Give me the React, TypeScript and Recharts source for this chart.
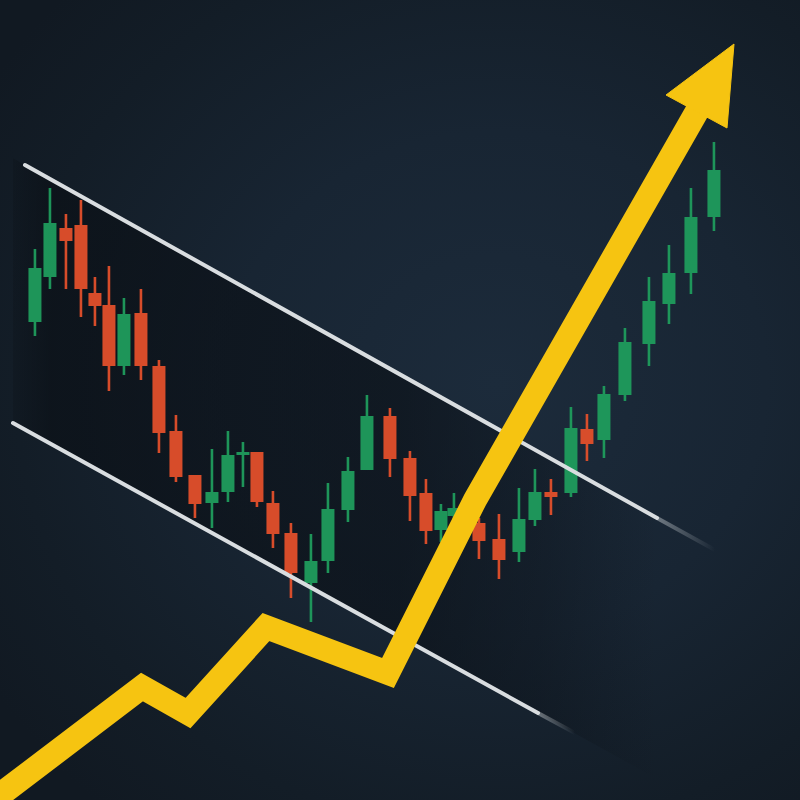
import React from 'react'
import { ComposedChart, XAxis, YAxis, Bar, Line, Area, Scatter } from 'recharts'

// candles: position on the time axis + OHLC (price units)
const times = [35, 50, 66, 81, 95, 109, 124, 141, 159, 176, 195, 212, 228, 243, 257, 273, 291, 311, 328, 348, 367, 390, 410, 426, 441, 454, 479, 499, 519, 535, 551, 571, 587, 604, 625, 649, 669, 691, 714]
const opens = [478, 523, 572, 575, 507, 495, 434, 487, 434, 369, 325, 297, 308, 345, 348, 297, 267, 217, 239, 290, 330, 384, 342, 307, 270, 284, 277, 261, 248, 280, 308, 307, 371, 360, 405, 456, 496, 527, 583]
const highs = [551, 612, 586, 600, 523, 534, 502, 511, 440, 385, 325, 351, 369, 358, 348, 309, 277, 266, 317, 343, 405, 392, 349, 321, 296, 307, 282, 286, 312, 331, 321, 393, 386, 414, 472, 523, 555, 612, 658]
const lows = [464, 511, 511, 483, 474, 409, 425, 420, 347, 318, 282, 272, 298, 313, 293, 252, 202, 178, 227, 278, 330, 323, 279, 256, 258, 280, 241, 221, 238, 274, 285, 303, 339, 342, 399, 434, 476, 506, 569]
const closes = [532, 577, 559, 511, 494, 434, 486, 434, 367, 323, 296, 308, 345, 348, 298, 266, 227, 239, 291, 329, 384, 341, 304, 269, 289, 292, 259, 240, 281, 308, 303, 372, 356, 406, 458, 499, 527, 583, 630]

// falling channel
const upperX = [25, 657]
const upperY = [635, 282]
const upperTailX = [657, 715]
const upperTailY = [282, 250]
const lowerX = [13, 538]
const lowerY = [377, 87]
const lowerTailX = [538, 575]
const lowerTailY = [87, 67]

// breakout arrow
const arrowX = [-8, 142, 188, 266, 388, 475, 700]
const arrowY = [-1, 113, 87, 173, 127, 300, 694]
const headX = [734, 666, 727]
const headY = [756, 705, 672]

const GREEN = '#1f9d5d'
const RED = '#e4502b'
const YELLOW = '#f6c411'
const WHITE = '#d9dde0'

const candles = times.map((t, i) => ({
  x: t,
  open: opens[i],
  high: highs[i],
  low: lows[i],
  close: closes[i],
  range: [lows[i], highs[i]],
}))

const pts = (xs: number[], ys: number[]) => xs.map((x, i) => ({ x, y: ys[i] }))

// channel band: interpolate the two straight lines at the same x
const lineAt = (xs: number[], ys: number[], x: number) =>
  ys[0] + ((ys[1] - ys[0]) * (x - xs[0])) / (xs[1] - xs[0])
const bandX = [13, 657]
const channel = bandX.map((x) => ({ x, band: [lineAt(lowerX, lowerY, x), lineAt(upperX, upperY, x)] }))

function Candle(props: any) {
  const { x, y, width, height, payload } = props
  if (x == null || y == null || !payload) return null
  const top = Math.min(y, y + height)
  const h = Math.abs(height)
  const { open, close, high, low } = payload
  const color = close >= open ? GREEN : RED
  const k = h / Math.max(high - low, 1)
  const cx = x + width / 2
  const bodyTop = top + (high - Math.max(open, close)) * k
  const bodyBot = top + (high - Math.min(open, close)) * k
  return (
    <g opacity={0.94}>
      <line x1={cx} x2={cx} y1={top} y2={top + h} stroke={color} strokeWidth={2.6} />
      <rect x={cx - 6.5} y={bodyTop} width={13} height={Math.max(bodyBot - bodyTop, 3)} fill={color} />
    </g>
  )
}

const ArrowHead = (p: any) => {
  const poly = (p.points || []).map((q: any) => `${q.x},${q.y}`).join(' ')
  return <polygon points={poly} fill={YELLOW} stroke={YELLOW} strokeWidth={1} strokeLinejoin="miter" />
}

export default function App() {
  return (
    <div
      style={{
        position: 'absolute',
        left: 0,
        top: 0,
        width: 800,
        height: 800,
        background:
          'radial-gradient(ellipse 75% 70% at 62% 48%, #1c2b3b 0%, #182533 45%, #131d27 80%, #111922 100%)',
      }}
    >
      <ComposedChart width={800} height={800} data={candles} margin={{ top: 0, right: 0, bottom: 0, left: 0 }}>
        <defs>
          <linearGradient id="chanFill" x1="0" y1="0" x2="1" y2="0">
            <stop offset="0%" stopColor="#0a0f15" stopOpacity={0.25} />
            <stop offset="6%" stopColor="#0a0f15" stopOpacity={0.65} />
            <stop offset="60%" stopColor="#0a0f15" stopOpacity={0.6} />
            <stop offset="82%" stopColor="#0a0f15" stopOpacity={0.35} />
            <stop offset="100%" stopColor="#0a0f15" stopOpacity={0} />
          </linearGradient>
          <linearGradient id="tailFade" x1="0" y1="0" x2="1" y2="0">
            <stop offset="0%" stopColor={WHITE} stopOpacity={0.45} />
            <stop offset="100%" stopColor={WHITE} stopOpacity={0} />
          </linearGradient>
        </defs>
        <XAxis dataKey="x" type="number" domain={[0, 800]} allowDataOverflow hide />
        <YAxis type="number" domain={[0, 800]} allowDataOverflow hide />

        <Area
          data={channel}
          dataKey="band"
          type="linear"
          stroke="none"
          fill="url(#chanFill)"
          fillOpacity={1}
          activeDot={false}
          isAnimationActive={false}
        />

        <Line data={pts(upperX, upperY)} dataKey="y" type="linear" stroke={WHITE} strokeWidth={4} strokeLinecap="round" dot={false} activeDot={false} isAnimationActive={false} />
        <Line data={pts(upperTailX, upperTailY)} dataKey="y" type="linear" stroke="url(#tailFade)" strokeWidth={4} dot={false} activeDot={false} isAnimationActive={false} />
        <Line data={pts(lowerX, lowerY)} dataKey="y" type="linear" stroke={WHITE} strokeWidth={4} strokeLinecap="round" dot={false} activeDot={false} isAnimationActive={false} />
        <Line data={pts(lowerTailX, lowerTailY)} dataKey="y" type="linear" stroke="url(#tailFade)" strokeWidth={4} dot={false} activeDot={false} isAnimationActive={false} />

        <Bar dataKey="range" barSize={13} shape={<Candle />} activeBar={false} isAnimationActive={false} />

        <Line
          data={pts(arrowX, arrowY)}
          dataKey="y"
          type="linear"
          stroke={YELLOW}
          strokeWidth={24}
          strokeLinejoin="miter"
          strokeMiterlimit={6}
          dot={false}
          activeDot={false}
          isAnimationActive={false}
        />
        <Scatter
          data={pts(headX, headY)}
          dataKey="y"
          fill={YELLOW}
          line={ArrowHead}
          lineType="joint"
          shape={() => <g />}
          isAnimationActive={false}
        />
      </ComposedChart>
    </div>
  )
}
